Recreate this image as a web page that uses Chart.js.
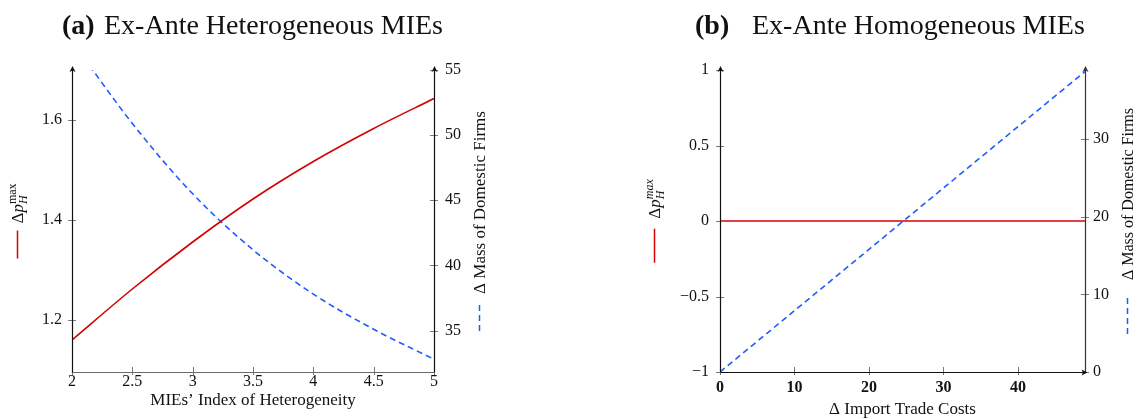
<!DOCTYPE html>
<html>
<head>
<meta charset="utf-8">
<script src="https://cdn.jsdelivr.net/npm/chart.js@4/dist/chart.umd.min.js"></script>
<style>
    html, body { margin: 0; padding: 0; background: #fff; }
    .wrap { display: flex; width: 1142px; height: 419px; }
    .panel { position: relative; width: 571px; height: 419px; }
</style>
</head>
<body>
<div class="wrap">
    <div class="panel"><canvas id="hetChart"></canvas></div>
    <div class="panel"><canvas id="homChart"></canvas></div>
</div>
<script>
// Panel (a): ex-ante heterogeneous MIEs
const hetIndex = [2, 2.5, 3, 3.5, 4, 4.5, 5];
const hetPriceChange = [1.160, 1.262, 1.356, 1.442, 1.517, 1.583, 1.643];
const hetMassChange = [57.2, 50.9, 45.5, 41.2, 37.8, 35.1, 32.8];
const hetXTicks = [2, 2.5, 3, 3.5, 4, 4.5, 5];
const hetLeftTicks = [1.2, 1.4, 1.6];
const hetRightTicks = [35, 40, 45, 50, 55];

// Panel (b): ex-ante homogeneous MIEs
const tradeCosts = [0, 10, 20, 30, 40, 49];
const homPriceChange = [0, 0, 0, 0, 0, 0];
const homMassChange = [0, 7.9, 15.8, 23.7, 31.6, 38.7];
const homXTicks = [0, 10, 20, 30, 40];
const homLeftTicks = [-1, -0.5, 0, 0.5, 1];
const homRightTicks = [0, 10, 20, 30];

const RED = '#d40000';
const BLUE = '#1f5cff';
const SERIF = '"Liberation Serif", "DejaVu Serif", serif';

function partsWidth(ctx, parts) {
    let w = 0;
    parts.forEach(p => {
        if (p.stack) {
            let m = 0;
            p.stack.forEach(s => { ctx.font = s.font; m = Math.max(m, ctx.measureText(s.t).width); });
            w += m;
        } else {
            ctx.font = p.font;
            w += ctx.measureText(p.t).width + (p.gap || 0);
        }
    });
    return w;
}

function drawParts(ctx, x, y, parts, color) {
    ctx.fillStyle = color || '#111';
    ctx.textBaseline = 'alphabetic';
    ctx.textAlign = 'left';
    parts.forEach(p => {
        if (p.stack) {
            let m = 0;
            p.stack.forEach(s => {
                ctx.font = s.font;
                ctx.fillText(s.t, x, y + s.dy);
                m = Math.max(m, ctx.measureText(s.t).width);
            });
            x += m;
        } else {
            ctx.font = p.font;
            ctx.fillText(p.t, x, y + (p.dy || 0));
            x += ctx.measureText(p.t).width + (p.gap || 0);
        }
    });
}

// rotated axis title with a little legend sample in front of it
function drawSideLabel(ctx, baseX, centerY, parts, sample) {
    const textW = partsWidth(ctx, parts);
    const total = sample.len + sample.gap + textW;
    ctx.save();
    ctx.translate(baseX, centerY);
    ctx.rotate(-Math.PI / 2);
    let x = -total / 2;
    ctx.strokeStyle = sample.color;
    ctx.lineWidth = 1.5;
    ctx.setLineDash(sample.dash || []);
    ctx.beginPath();
    ctx.moveTo(x, -5.5);
    ctx.lineTo(x + sample.len, -5.5);
    ctx.stroke();
    ctx.setLineDash([]);
    drawParts(ctx, x + sample.len + sample.gap, 0, parts);
    ctx.restore();
}

function arrowHead(ctx, x, y, dir, color) {
    ctx.save();
    ctx.translate(x, y);
    ctx.rotate(dir === 'up' ? -Math.PI / 2 : 0);
    ctx.fillStyle = color;
    ctx.beginPath();
    ctx.moveTo(2, 0);
    ctx.lineTo(-4, -3);
    ctx.lineTo(-2.5, 0);
    ctx.lineTo(-4, 3);
    ctx.closePath();
    ctx.fill();
    ctx.restore();
}

function makeDecor(spec) {
    return {
        id: 'decor',
        afterDraw(chart) {
            const ctx = chart.ctx;
            const a = chart.chartArea;
            ctx.save();

            // ticks crossing the axis lines
            ctx.strokeStyle = '#7a7a7a';
            ctx.lineWidth = 1;
            ['x', 'y', 'y2'].forEach(id => {
                const sc = chart.scales[id];
                sc.ticks.forEach(t => {
                    const p = Math.round(sc.getPixelForValue(t.value)) + 0.5;
                    ctx.beginPath();
                    if (id === 'x') {
                        ctx.moveTo(p, a.bottom - 5); ctx.lineTo(p, a.bottom + 3);
                    } else {
                        const ax = id === 'y' ? a.left : a.right;
                        ctx.moveTo(ax - 4, p); ctx.lineTo(ax + 4, p);
                    }
                    ctx.stroke();
                });
            });

            // axis lines
            const L = Math.round(a.left) + 0.5, R = Math.round(a.right) + 0.5, B = Math.round(a.bottom) + 0.5;
            ctx.lineWidth = 1.2;
            ctx.strokeStyle = spec.bottomColor;
            ctx.beginPath(); ctx.moveTo(L, B); ctx.lineTo(R, B); ctx.stroke();
            ctx.strokeStyle = '#111';
            ctx.beginPath(); ctx.moveTo(L, B); ctx.lineTo(L, a.top - 1); ctx.stroke();
            ctx.strokeStyle = spec.rightColor;
            ctx.beginPath(); ctx.moveTo(R, B); ctx.lineTo(R, a.top - 1); ctx.stroke();
            arrowHead(ctx, L, a.top - 2, 'up', '#111');
            arrowHead(ctx, R, a.top - 2, 'up', spec.rightColor);
            if (spec.bottomArrow) arrowHead(ctx, R, B, 'right', '#111');

            // panel title
            ctx.fillStyle = '#111';
            ctx.textBaseline = 'alphabetic';
            ctx.textAlign = 'left';
            ctx.font = 'bold 28px ' + SERIF;
            ctx.fillText(spec.tag, spec.tagX, 34);
            ctx.font = '28px ' + SERIF;
            ctx.fillText(spec.title, spec.titleX, 34);

            // x axis title
            ctx.font = '17px ' + SERIF;
            ctx.textAlign = 'center';
            ctx.fillText(spec.xTitle, (a.left + a.right) / 2, spec.xTitleY);

            // y axis titles with legend samples
            const midY = (a.top + a.bottom) / 2;
            drawSideLabel(ctx, spec.leftTitleX, midY, spec.leftParts,
                { len: spec.leftSample, gap: spec.leftGap, color: RED });
            drawSideLabel(ctx, spec.rightTitleX, midY,
                [{ t: 'Δ Mass of Domestic Firms', font: spec.rightFont }],
                { len: spec.rightSample, gap: spec.rightGap, color: BLUE, dash: [6, 4] });
            ctx.restore();
        }
    };
}

function fixedTicks(list) {
    return scale => { scale.ticks = list.map(v => ({ value: v })); };
}

function panelConfig(o) {
    return {
        type: 'line',
        data: {
            datasets: [{
                label: 'price',
                data: o.xs.map((x, i) => ({ x: x, y: o.left[i] })),
                borderColor: RED,
                borderWidth: 1.6,
                pointRadius: 0,
                cubicInterpolationMode: 'monotone',
                yAxisID: 'y'
            }, {
                label: 'mass',
                data: o.xs.map((x, i) => ({ x: x, y: o.right[i] })),
                borderColor: BLUE,
                borderWidth: 1.6,
                borderDash: [6, 4],
                pointRadius: 0,
                cubicInterpolationMode: 'monotone',
                yAxisID: 'y2'
            }]
        },
        options: {
            responsive: true,
            maintainAspectRatio: false,
            animation: false,
            devicePixelRatio: 1,
            layout: { padding: { top: 70, left: 0, right: 0, bottom: 0 } },
            plugins: { legend: { display: false }, tooltip: { enabled: false }, title: { display: false } },
            scales: {
                x: {
                    type: 'linear', position: 'bottom', min: o.xMin, max: o.xMax,
                    afterBuildTicks: fixedTicks(o.xTicks),
                    afterFit: s => { s.height = 419 - 372; },
                    grid: { display: false, drawTicks: false },
                    border: { display: false },
                    ticks: {
                        padding: o.xPad, color: '#111', maxRotation: 0,
                        font: { family: SERIF, size: 16, weight: o.xBold ? 'bold' : 'normal' },
                        callback: v => String(v)
                    }
                },
                y: {
                    type: 'linear', position: 'left', min: o.yMin, max: o.yMax,
                    afterBuildTicks: fixedTicks(o.yTicks),
                    afterFit: s => { s.width = o.leftW; },
                    grid: { display: false, drawTicks: false },
                    border: { display: false },
                    ticks: {
                        padding: o.yPad, color: '#111',
                        font: { family: SERIF, size: 16 },
                        callback: v => o.yFmt(v)
                    }
                },
                y2: {
                    type: 'linear', position: 'right', min: o.y2Min, max: o.y2Max,
                    afterBuildTicks: fixedTicks(o.y2Ticks),
                    afterFit: s => { s.width = o.rightW; },
                    grid: { display: false, drawTicks: false },
                    border: { display: false },
                    ticks: {
                        padding: o.y2Pad, color: '#111',
                        font: { family: SERIF, size: 16 },
                        callback: v => String(v)
                    }
                }
            }
        },
        plugins: [makeDecor(o.decor)]
    };
}

document.addEventListener('DOMContentLoaded', function() {
    new Chart(document.getElementById('hetChart'), panelConfig({
        xs: hetIndex, left: hetPriceChange, right: hetMassChange,
        xMin: 2, xMax: 5, xTicks: hetXTicks, xPad: 0, xBold: false,
        yMin: 1.096, yMax: 1.7, yTicks: hetLeftTicks, yPad: 10, leftW: 72,
        yFmt: v => v.toFixed(1),
        y2Min: 31.82, y2Max: 55, y2Ticks: hetRightTicks, y2Pad: 11, rightW: 571 - 434,
        decor: {
            tag: '(a)', tagX: 62, title: 'Ex-Ante Heterogeneous MIEs', titleX: 104,
            xTitle: 'MIEs\u2019 Index of Heterogeneity', xTitleY: 405,
            bottomColor: '#6a6a6a', rightColor: '#111', bottomArrow: false,
            leftTitleX: 23, leftSample: 28, leftGap: 7,
            leftParts: [
                { t: 'Δ', font: '17px ' + SERIF },
                { t: 'p', font: 'italic 17px ' + SERIF },
                { stack: [
                    { t: 'max', font: '12px ' + SERIF, dy: -7 },
                    { t: 'H', font: 'italic 12px ' + SERIF, dy: 4 }
                ] }
            ],
            rightTitleX: 485, rightSample: 28, rightGap: 9, rightFont: '17px ' + SERIF
        }
    }));

    new Chart(document.getElementById('homChart'), panelConfig({
        xs: tradeCosts, left: homPriceChange, right: homMassChange,
        xMin: 0, xMax: 49, xTicks: homXTicks, xPad: 6, xBold: true,
        yMin: -1, yMax: 1, yTicks: homLeftTicks, yPad: 11, leftW: 720 - 571,
        yFmt: v => String(v).replace('-', '\u2212'),
        y2Min: 0, y2Max: 38.9, y2Ticks: homRightTicks, y2Pad: 8, rightW: 1142 - 1085,
        decor: {
            tag: '(b)', tagX: 124, title: 'Ex-Ante Homogeneous MIEs', titleX: 181,
            xTitle: 'Δ Import Trade Costs', xTitleY: 414,
            bottomColor: '#111', rightColor: '#333', bottomArrow: true,
            leftTitleX: 89, leftSample: 34, leftGap: 10,
            leftParts: [
                { t: 'Δ', font: '17px ' + SERIF },
                { t: 'p', font: 'italic 17px ' + SERIF },
                { stack: [
                    { t: 'max', font: 'italic 12px ' + SERIF, dy: -7 },
                    { t: 'H', font: 'italic 12px ' + SERIF, dy: 4 }
                ] }
            ],
            rightTitleX: 562, rightSample: 40, rightGap: 14, rightFont: '16px ' + SERIF
        }
    }));
});
</script>
</body>
</html>
